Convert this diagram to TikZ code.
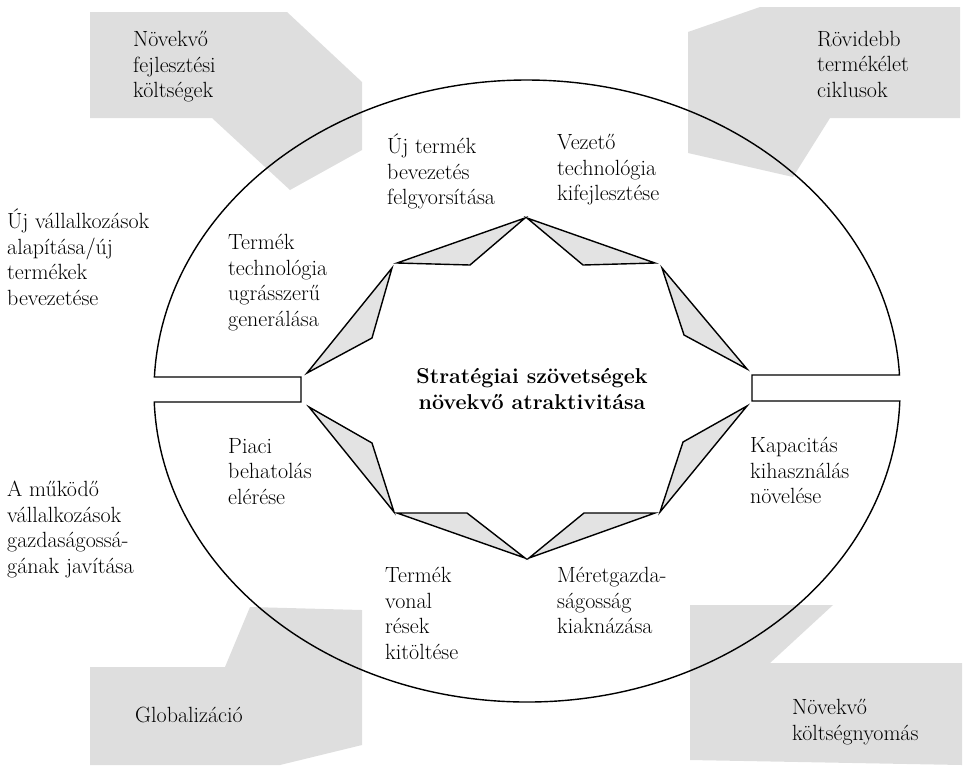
\documentclass[tikz,border=0pt]{standalone}
\usepackage{fontspec}
\begin{document}
\begin{tikzpicture}[x=1pt,y=-1pt,
  lbl/.style={anchor=north west, align=left, inner sep=0pt,
              font=\fontsize{22}{25.5}\selectfont\addfontfeature{LetterSpace=3,FakeBold=0.4}},
  wedge/.style={draw=black, line width=1.4pt, line join=miter, fill=black!11},
  patch/.style={fill=black!13, draw=none},
  rim/.style={draw=black, line width=1.4pt}]
\useasboundingbox (0,0) rectangle (968,772);

% stippled corner arrows
\path[patch] (90,12) -- (287,12) -- (362,82) -- (362,150) -- (290,190) -- (212,118) -- (90,118) -- cycle;
\path[patch] (760,7) -- (960,7) -- (960,118) -- (830,118) -- (793,177) -- (688,153) -- (688,32) -- cycle;
\path[patch] (90,667) -- (225,667) -- (250,607) -- (362,610) -- (362,745) -- (280,765) -- (90,765) -- cycle;
\path[patch] (690,605) -- (833,605) -- (770,663) -- (962,663) -- (962,765) -- (690,760) -- cycle;

% outer rim with the two slots
\coordinate (lt) at (154.4,377);
\coordinate (rb) at (899.8,401);
\draw[rim] (lt) arc[start angle=182.58, end angle=357.05, x radius=373, y radius=311]
  -- (752,375) -- (752,401) -- (rb)
  arc[start angle=1.84, end angle=177.97, x radius=373, y radius=311]
  -- (301,402) -- (301,377) -- cycle;

% eight wedges of the star
\draw[wedge] (525,218) -- (397,263) -- (470,265) -- cycle;
\draw[wedge] (527,218) -- (655,263) -- (583,265) -- cycle;
\draw[wedge] (392,268) -- (307,373) -- (372,338) -- cycle;
\draw[wedge] (309,407) -- (394,512) -- (372,443) -- cycle;
\draw[wedge] (397,513) -- (525,558) -- (467,513) -- cycle;
\draw[wedge] (529,558) -- (655,513) -- (584,513) -- cycle;
\draw[wedge] (662,268) -- (747,369) -- (684,335) -- cycle;
\draw[wedge] (747,406) -- (660,512) -- (683,442) -- cycle;

% labels
\node[lbl] (fejl) at (133,31) {Növekvő\\fejlesztési\\költségek};
\node[lbl] (ciklus) at (817,31) {Rövidebb\\termékélet\\ciklusok};
\node[lbl] (ujtermek) at (387,134) {Új termék\\bevezetés\\felgyorsítása};
\node[lbl] (vezeto) at (557,134) {Vezető\\technológia\\kifejlesztése};
\node[lbl] (ujvall) at (7,209) {Új vállalkozások\\alapítása/új\\termékek\\bevezetése};
\node[lbl] (ugras) at (228,234) {Termék\\technológia\\ugrásszerű\\generálása};
\node[anchor=center, align=center, inner sep=0pt, font=\fontsize{21.5}{25.5}\selectfont\bfseries]
  (kozep) at (532,389) {Stratégiai szövetségek\\növekvő atraktivitása};
\node[lbl] (piaci) at (228,438) {Piaci\\behatolás\\elérése};
\node[lbl] (kapac) at (750,437) {Kapacitás\\kihasználás\\növelése};
\node[lbl] (mukodo) at (7,481) {A működő\\vállalkozások\\gazdaságossá-\\gának javítása};
\node[lbl] (resek) at (385,567) {Termék\\vonal\\rések\\kitöltése};
\node[lbl] (meret) at (557,567) {Méretgazda-\\ságosság\\kiaknázása};
\node[lbl] (glob) at (135,707) {Globalizáció};
\node[lbl] (nyomas) at (792,699) {Növekvő\\költségnyomás};
\end{tikzpicture}
\end{document}
